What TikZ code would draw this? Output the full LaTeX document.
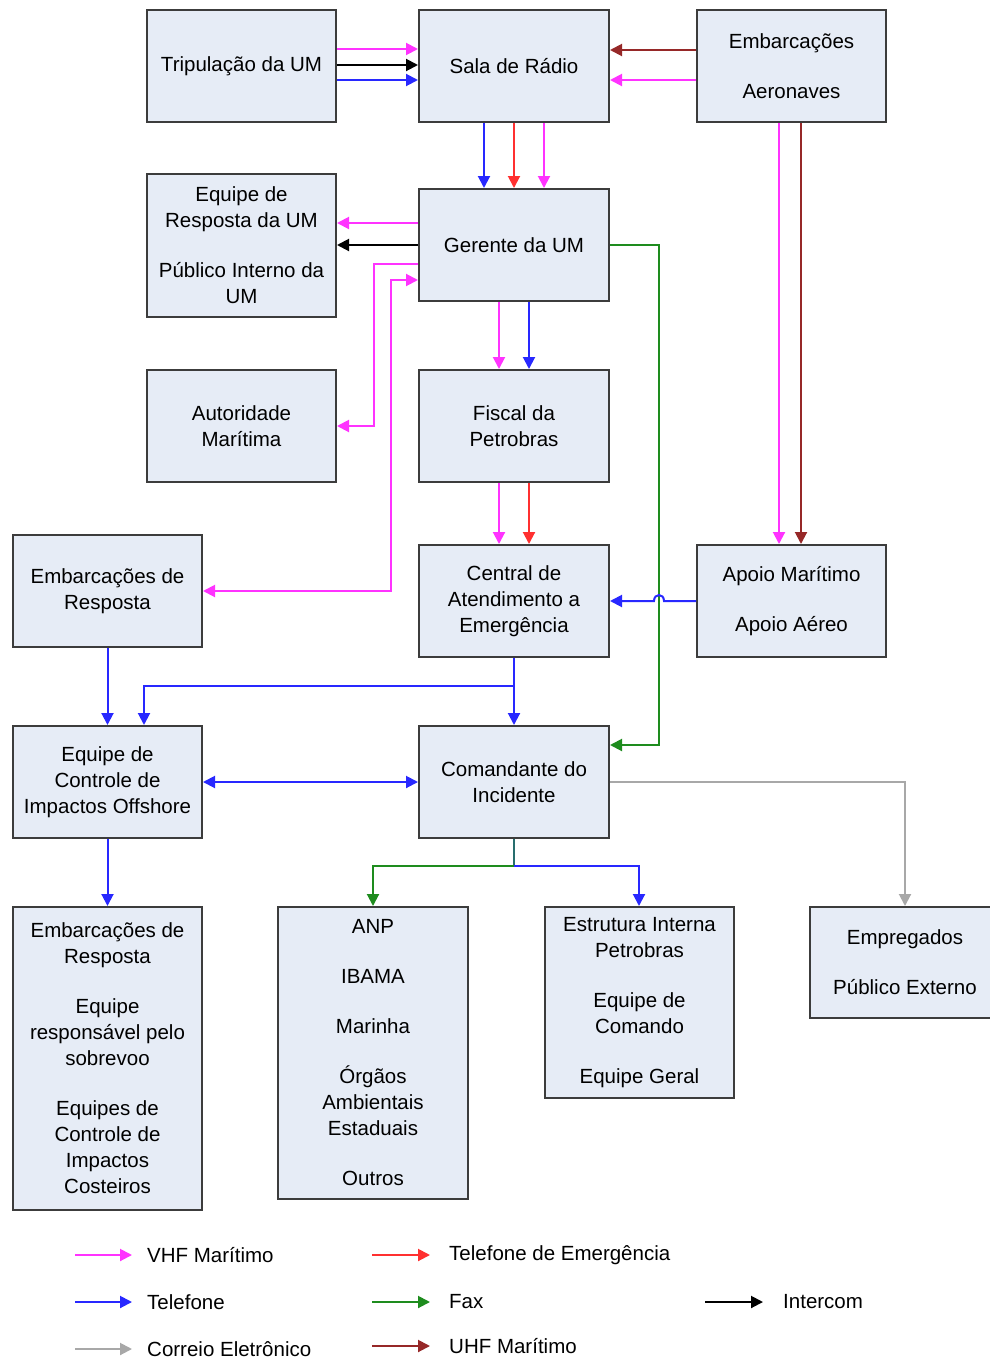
\documentclass[tikz,border=0pt]{standalone}
\usepackage{fontspec}
\setmainfont{Liberation Sans}
\usetikzlibrary{arrows.meta}
\definecolor{boxfill}{RGB}{230,236,246}
\definecolor{boxline}{RGB}{60,60,60}
\definecolor{cmag}{RGB}{255,51,255}
\definecolor{cblue}{RGB}{40,40,255}
\definecolor{cred}{RGB}{255,48,48}
\definecolor{cuhf}{RGB}{150,40,40}
\definecolor{cfax}{RGB}{30,140,30}
\definecolor{cmail}{RGB}{168,168,168}
\definecolor{cteal}{RGB}{40,110,110}
\begin{document}
\begin{tikzpicture}[x=1pt,y=-1pt,
 box/.style={draw=boxline,fill=boxfill,line width=2pt,align=center,font=\fontsize{20.5}{26}\selectfont,inner sep=2pt},
 conn/.style={line width=2pt},
 arr/.style={conn,-{Triangle[length=12pt,width=12pt]}},
 darr/.style={conn,{Triangle[length=12pt,width=12pt]}-{Triangle[length=12pt,width=12pt]}},
 lab/.style={anchor=west,font=\fontsize{20.5}{26}\selectfont,inner sep=0pt}]
\useasboundingbox (0,0) rectangle (990,1360);

% boxes
\node[box,minimum width=189pt,minimum height=112pt] (trip) at (241.5,66) {Tripulação da UM};
\node[box,minimum width=190pt,minimum height=112pt] (sala) at (514,66) {Sala de Rádio};
\node[box,minimum width=189pt,minimum height=112pt] (emb) at (791.5,66) {Embarcações\\[24pt]Aeronaves};
\node[box,minimum width=189pt,minimum height=143pt] (eqr) at (241.5,245.5) {Equipe de\\Resposta da UM\\[24pt]Público Interno da\\UM};
\node[box,minimum width=190pt,minimum height=112pt] (ger) at (514,245) {Gerente da UM};
\node[box,minimum width=189pt,minimum height=112pt] (aut) at (241.5,426) {Autoridade\\Marítima};
\node[box,minimum width=190pt,minimum height=112pt] (fis) at (514,426) {Fiscal da\\Petrobras};
\node[box,minimum width=189pt,minimum height=112pt] (embr) at (107.5,591) {Embarcações de\\Resposta};
\node[box,minimum width=190pt,minimum height=112pt] (cen) at (514,601) {Central de\\Atendimento a\\Emergência};
\node[box,minimum width=189pt,minimum height=112pt] (apo) at (791.5,601) {Apoio Marítimo\\[24pt]Apoio Aéreo};
\node[box,minimum width=189pt,minimum height=112pt] (ecio) at (107.5,782) {Equipe de\\Controle de\\Impactos Offshore};
\node[box,minimum width=190pt,minimum height=112pt] (com) at (514,782) {Comandante do\\Incidente};
\node[box,minimum width=189pt,minimum height=303pt] (embb) at (107.5,1058.5) {Embarcações de\\Resposta\\[24pt]Equipe\\responsável pelo\\sobrevoo\\[24pt]Equipes de\\Controle de\\Impactos\\Costeiros};
\node[box,minimum width=190pt,minimum height=292pt] (anp) at (373,1053) {ANP\\[24pt]IBAMA\\[24pt]Marinha\\[24pt]Órgãos\\Ambientais\\Estaduais\\[24pt]Outros};
\node[box,minimum width=189pt,minimum height=191pt] (est) at (639.5,1002.5) {Estrutura Interna\\Petrobras\\[24pt]Equipe de\\Comando\\[24pt]Equipe Geral};
\node[box,minimum width=190pt,minimum height=111pt] (empr) at (905,962.5) {Empregados\\[24pt]Público Externo};

% Tripulacao -> Sala
\draw[arr,cmag] (trip.east |- 0,49) -- (sala.west |- 0,49);
\draw[arr,black] (trip.east |- 0,65) -- (sala.west |- 0,65);
\draw[arr,cblue] (trip.east |- 0,80) -- (sala.west |- 0,80);
% Embarcacoes -> Sala
\draw[arr,cuhf] (emb.west |- 0,50) -- (sala.east |- 0,50);
\draw[arr,cmag] (emb.west |- 0,80) -- (sala.east |- 0,80);
% Sala -> Gerente
\draw[arr,cblue] (sala.south -| 484,0) -- (ger.north -| 484,0);
\draw[arr,cred] (sala.south -| 514,0) -- (ger.north -| 514,0);
\draw[arr,cmag] (sala.south -| 544,0) -- (ger.north -| 544,0);
% Gerente -> Equipe de Resposta
\draw[arr,cmag] (ger.west |- 0,223) -- (eqr.east |- 0,223);
\draw[arr,black] (ger.west |- 0,245) -- (eqr.east |- 0,245);
% Gerente -> Autoridade
\draw[arr,cmag] (ger.west |- 0,264) -- (374,264) -- (374,426) -- (aut.east |- 0,426);
% Embarcacoes de Resposta <-> Gerente
\draw[darr,cmag] (embr.east |- 0,591) -- (391,591) -- (391,280) -- (ger.west |- 0,280);
% Gerente -> Fiscal
\draw[arr,cmag] (ger.south -| 499,0) -- (fis.north -| 499,0);
\draw[arr,cblue] (ger.south -| 529,0) -- (fis.north -| 529,0);
% Fiscal -> Central
\draw[arr,cmag] (fis.south -| 499,0) -- (cen.north -| 499,0);
\draw[arr,cred] (fis.south -| 529,0) -- (cen.north -| 529,0);
% Gerente -> Comandante (fax)
\draw[arr,cfax] (ger.east |- 0,245) -- (659,245) -- (659,745) -- (com.east |- 0,745);
% Embarcacoes -> Apoio
\draw[arr,cmag] (emb.south -| 779,0) -- (apo.north -| 779,0);
\draw[arr,cuhf] (emb.south -| 801,0) -- (apo.north -| 801,0);
% Apoio -> Central with jump
\draw[arr,cblue] (apo.west) -- (664,601) .. controls (664,593) and (654,593) .. (654,601) -- (cen.east);
% Central -> Comandante and Equipe de Controle
\draw[arr,cblue] (cen.south) -- (com.north);
\draw[arr,cblue] (cen.south |- 0,686) -- (144,686) -- (ecio.north -| 144,0);
% Embarcacoes de Resposta -> Equipe de Controle
\draw[arr,cblue] (embr.south) -- (ecio.north);
% Equipe de Controle <-> Comandante
\draw[darr,cblue] (ecio.east) -- (com.west);
% Equipe de Controle -> Embarcacoes (bottom)
\draw[arr,cblue] (ecio.south) -- (embb.north);
% Comandante -> ANP, Estrutura
\coordinate (split) at (514,866);
\draw[conn,cteal] (com.south) -- (split);
\draw[arr,cfax] (split) -- (373,866) -- (anp.north);
\draw[arr,cblue] (split) -- (639,866) -- (est.north -| 639,0);
% Comandante -> Empregados
\draw[arr,cmail] (com.east) -- (905,782) -- (empr.north);

% legend
\node[lab] (l1) at (147,1255) {VHF Marítimo};
\node[lab] (l2) at (449,1255) {Telefone de Emergência};
\node[lab] (l3) at (147,1302) {Telefone};
\node[lab] (l4) at (449,1302) {Fax};
\node[lab] (l5) at (783,1302) {Intercom};
\node[lab] (l6) at (147,1349) {Correio Eletrônico};
\node[lab] (l7) at (449,1346) {UHF Marítimo};
\draw[arr,cmag] ([xshift=-72pt]l1.west) -- ([xshift=-15pt]l1.west);
\draw[arr,cred] ([xshift=-77pt]l2.west) -- ([xshift=-19pt]l2.west);
\draw[arr,cblue] ([xshift=-72pt]l3.west) -- ([xshift=-15pt]l3.west);
\draw[arr,cfax] ([xshift=-77pt]l4.west) -- ([xshift=-19pt]l4.west);
\draw[arr,black] ([xshift=-78pt]l5.west) -- ([xshift=-20pt]l5.west);
\draw[arr,cmail] ([xshift=-72pt]l6.west) -- ([xshift=-15pt]l6.west);
\draw[arr,cuhf] ([xshift=-77pt]l7.west) -- ([xshift=-19pt]l7.west);
\end{tikzpicture}
\end{document}
